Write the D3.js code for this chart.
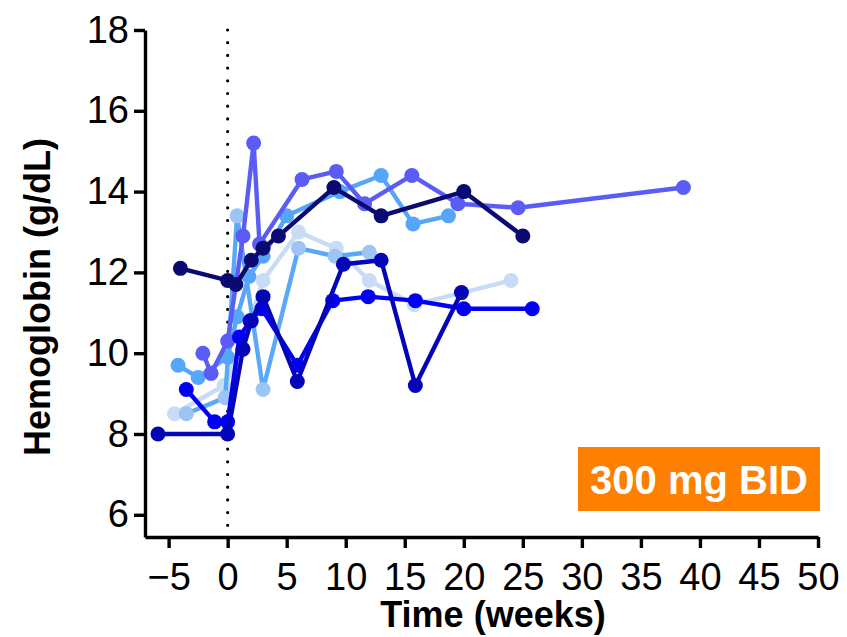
<!DOCTYPE html>
<html>
<head>
<meta charset="utf-8">
<script src="https://cdn.jsdelivr.net/npm/d3@7"></script>
<style>
  body { margin: 0; background: #fff; }
  svg { font-family: "Liberation Sans", Arial, sans-serif; }
</style>
</head>
<body>
<script>
// chart size
var w = 847;
var h = 637;

// data: one array of [week, hemoglobin] per patient
var veryLightSeries = [[-4.5, 8.5], [-0.3, 9.2], [0.5, 9.6], [3, 11.8], [6, 13.0], [9.2, 12.6], [12, 11.8], [15.8, 11.2], [24, 11.8]];
var lightSeries = [[-3.5, 8.5], [-0.2, 8.9], [0.8, 13.4], [3, 9.1], [6, 12.6], [9.1, 12.4], [12, 12.5]];
var mediumSeries = [[-4.2, 9.7], [-2.5, 9.4], [0, 9.9], [0.8, 10.9], [1.8, 11.9], [3, 12.4], [5, 13.4], [9.5, 14.0], [13, 14.4], [15.7, 13.2], [18.7, 13.4]];
var purpleSeries = [[-2.1, 10.0], [-1.4, 9.5], [0, 10.3], [1.3, 12.9], [2.2, 15.2], [2.7, 12.7], [6.3, 14.3], [9.2, 14.5], [11.6, 13.7], [15.6, 14.4], [19.5, 13.7], [24.6, 13.6], [38.6, 14.1]];
var brightSeries = [[-3.5, 9.1], [-1.1, 8.3], [0, 8.3], [1, 10.4], [1.9, 10.8], [2.9, 11.1], [5.9, 9.7], [8.9, 11.3], [11.9, 11.4], [15.9, 11.3], [20, 11.1], [25.8, 11.1]];
var darkSeries = [[-5.9, 8.0], [0, 8.0], [1.3, 10.1], [2, 10.8], [3, 11.4], [5.9, 9.3], [9.8, 12.2], [13, 12.3], [15.9, 9.2], [19.8, 11.5]];
var navySeries = [[-4, 12.1], [0, 11.8], [0.7, 11.7], [2, 12.3], [3, 12.6], [4.3, 12.9], [9, 14.1], [13, 13.4], [20, 14.0], [25, 12.9]];

var xTicks = [-5, 0, 5, 10, 15, 20, 25, 30, 35, 40, 45, 50];
var yTicks = [6, 8, 10, 12, 14, 16, 18];

window.onload = function() {
  var series = [
    {data: veryLightSeries, line: "#c8dcf6", dot: "#c8dcf6"},
    {data: lightSeries, line: "#5aa8f8", dot: "#9cc5f5"},
    {data: mediumSeries, line: "#55a5f8", dot: "#55a5f8"},
    {data: purpleSeries, line: "#5b5bf6", dot: "#5b5bf6"},
    {data: brightSeries, line: "#0000f5", dot: "#0000f5"},
    {data: darkSeries, line: "#0505b8", dot: "#0505b8"},
    {data: navySeries, line: "#0a0a72", dot: "#0a0a72"}
  ];

  var x = d3.scaleLinear().domain([-7, 50]).range([145, 818]);
  var y = d3.scaleLinear().domain([5.45, 18]).range([537, 30]);

  var svg = d3.select("body").append("svg")
              .attr("width", w)
              .attr("height", h);

  // dotted line at week 0
  svg.append("line")
     .attr("x1", x(0)).attr("x2", x(0))
     .attr("y1", y(18)).attr("y2", y(5.45))
     .attr("stroke", "#000")
     .attr("stroke-width", 3.2)
     .attr("stroke-linecap", "round")
     .attr("stroke-dasharray", "0,12.7");

  // patient lines and dots
  var line = d3.line()
               .x(function(d) { return x(d[0]); })
               .y(function(d) { return y(d[1]); });

  series.forEach(function(s) {
    svg.append("path")
       .datum(s.data)
       .attr("d", line)
       .attr("fill", "none")
       .attr("stroke", s.line)
       .attr("stroke-width", 4.4)
       .attr("stroke-linejoin", "round");

    svg.selectAll(null)
       .data(s.data)
       .enter()
       .append("circle")
       .attr("cx", function(d) { return x(d[0]); })
       .attr("cy", function(d) { return y(d[1]); })
       .attr("r", 7.5)
       .attr("fill", s.dot);
  });

  // axes
  var xAxis = svg.append("g")
     .attr("transform", "translate(0,537)")
     .call(d3.axisBottom(x).tickValues(xTicks).tickSize(11).tickSizeOuter(0).tickPadding(15));

  var yAxis = svg.append("g")
     .attr("transform", "translate(145,0)")
     .call(d3.axisLeft(y).tickValues(yTicks).tickSize(11).tickSizeOuter(0).tickPadding(5));

  [xAxis, yAxis].forEach(function(a) {
    a.select(".domain").attr("stroke", "#000").attr("stroke-width", 3.4);
    a.selectAll(".tick line").attr("stroke", "#000").attr("stroke-width", 3.4);
    a.selectAll(".tick text")
     .attr("fill", "#000")
     .style("font-family", "'Liberation Sans', Arial, sans-serif")
     .style("font-size", "38px");
  });

  // axis titles
  svg.append("text")
     .attr("text-anchor", "middle")
     .attr("x", 493)
     .attr("y", 627)
     .style("font-size", "36px")
     .style("font-weight", "bold")
     .text("Time (weeks)");

  svg.append("text")
     .attr("text-anchor", "middle")
     .attr("transform", "translate(50,297) rotate(-90)")
     .style("font-size", "36px")
     .style("font-weight", "bold")
     .text("Hemoglobin (g/dL)");

  // dose label
  svg.append("rect")
     .attr("x", 578).attr("y", 447)
     .attr("width", 242).attr("height", 64)
     .attr("fill", "#ff8000");

  svg.append("text")
     .attr("text-anchor", "middle")
     .attr("x", 699)
     .attr("y", 494)
     .attr("fill", "#fff")
     .style("font-size", "40px")
     .style("font-weight", "bold")
     .text("300 mg BID");
};
</script>
</body>
</html>
